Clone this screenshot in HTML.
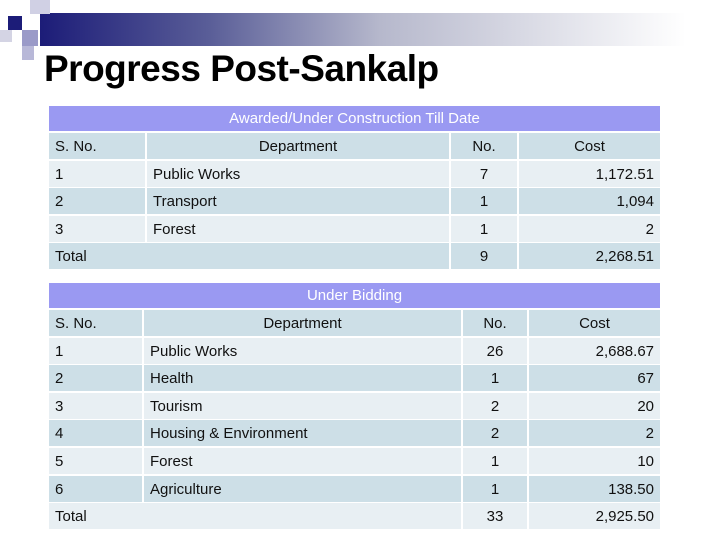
<!DOCTYPE html>
<html><head><meta charset="utf-8"><style>
body{margin:0;width:720px;height:540px;background:#fff;position:relative;overflow:hidden;font-family:"Liberation Sans",sans-serif}
.a{position:absolute}
.cap{position:absolute;background:#9a99f2;color:#fff;font-size:15px;text-align:center;line-height:25px;height:25px}
.row{position:absolute;height:26px;font-size:15px;color:#111;line-height:27px}
.c{position:absolute;top:0;height:26px;box-sizing:border-box;padding:0 6px}
.l{background:#e8eff3}.d{background:#cddfe7}
</style></head><body>
<div class="a" style="left:40px;top:13px;width:680px;height:33px;background:linear-gradient(90deg,#1c1c78 0%,#5a5e98 25%,#b6b8cc 50%,#fff 95%)"></div>
<div class="a" style="left:8px;top:16px;width:14px;height:14px;background:#1c1c78"></div>
<div class="a" style="left:22px;top:30px;width:16px;height:16px;background:#9a9ac8"></div>
<div class="a" style="left:0px;top:30px;width:12px;height:12px;background:#d4d4e4"></div>
<div class="a" style="left:22px;top:46px;width:12px;height:14px;background:#b8b8d8"></div>
<div class="a" style="left:30px;top:0px;width:20px;height:14px;background:#d0d0e4"></div>
<div class="a" style="left:44px;top:48px;font-size:37px;font-weight:bold;color:#000;letter-spacing:-0.5px">Progress Post-Sankalp</div>
<script>
function build(cap,capTop,rows,cols,name){
  var c=document.createElement('div');c.className='cap';
  
  
  c.style.left='49px';c.style.width='611px';c.style.top=capTop+'px';c.textContent=cap;document.body.appendChild(c);
  rows.forEach(function(r,i){
    var row=document.createElement('div');row.className='row';
    
    
    row.style.top=(capTop+27+i*27.6)+'px';row.style.left='0';row.style.width='720px';
    var bg=r.bg;
    var spans=r.total?[[cols[0],cols[2],r.v[0],'left'],[cols[2],cols[3],r.v[2],'center'],[cols[3],cols[4],r.v[3],'right']]:
      [[cols[0],cols[1],r.v[0],'left'],[cols[1],cols[2],r.v[1],r.hdr?'center':'left'],[cols[2],cols[3],r.v[2],'center'],[cols[3],cols[4],r.v[3],r.hdr?'center':'right']];
    spans.forEach(function(s,j){
      var cell=document.createElement('div');cell.className='c '+bg;
      
      
      cell.style.left=(s[0]+(j?2:0))+'px';cell.style.width=(s[1]-s[0]-(j?2:0))+'px';cell.style.textAlign=s[3];cell.textContent=s[2];row.appendChild(cell);
    });
    document.body.appendChild(row);
  });
}
build('Awarded/Under Construction Till Date',106,[
 {v:['S. No.','Department','No.','Cost'],hdr:1,bg:'d'},
 {v:['1','Public Works','7','1,172.51'],bg:'l'},
 {v:['2','Transport','1','1,094'],bg:'d'},
 {v:['3','Forest','1','2'],bg:'l'},
 {v:['Total','','9','2,268.51'],total:1,bg:'d'}],[49,145,449,517,660],'awarded-table');
build('Under Bidding',283,[
 {v:['S. No.','Department','No.','Cost'],hdr:1,bg:'d'},
 {v:['1','Public Works','26','2,688.67'],bg:'l'},
 {v:['2','Health','1','67'],bg:'d'},
 {v:['3','Tourism','2','20'],bg:'l'},
 {v:['4','Housing & Environment','2','2'],bg:'d'},
 {v:['5','Forest','1','10'],bg:'l'},
 {v:['6','Agriculture','1','138.50'],bg:'d'},
 {v:['Total','','33','2,925.50'],total:1,bg:'l'}],[49,142,461,527,660],'bidding-table');
</script>
</body></html>
